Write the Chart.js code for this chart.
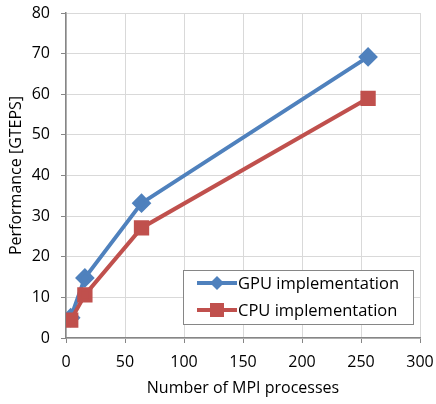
<!DOCTYPE html>
<html><head><meta charset="utf-8">
<script src="https://cdn.jsdelivr.net/npm/chart.js@4"></script>
<style>html,body{margin:0;padding:0;background:#fff}#w{width:436px;height:404px}</style>
</head><body><div id="w"><canvas id="c"></canvas></div>
<script>
const processes = [4, 16, 64, 256];
const gpuPerf = [5.0, 14.8, 33.2, 69.2];
const cpuPerf = [4.4, 10.6, 27.1, 59.0];
const seriesNames = ['GPU implementation', 'CPU implementation'];
const xTitle = 'Number of MPI processes';
const yTitle = 'Performance [GTEPS]';

const FONT = '"Open Sans", "Liberation Sans", sans-serif';
const legendPlugin = {
  id: 'boxLegend',
  afterDraw(chart) {
    const ctx = chart.ctx;
    const x0 = 183, y0 = 270, w = 230, h = 54;
    ctx.save();
    ctx.fillStyle = '#fff';
    ctx.fillRect(x0, y0, w, h);
    ctx.strokeStyle = '#868686';
    ctx.lineWidth = 1;
    ctx.strokeRect(x0 + 0.5, y0 + 0.5, w, h);
    chart.data.datasets.forEach((ds, i) => {
      const cy = y0 + 13 + i * 27;
      ctx.strokeStyle = ds.borderColor;
      ctx.lineWidth = 4;
      ctx.beginPath(); ctx.moveTo(x0 + 14, cy); ctx.lineTo(x0 + 54, cy); ctx.stroke();
      ctx.fillStyle = ds.backgroundColor;
      ctx.beginPath();
      if (ds.pointStyle === 'rectRot') {
        ctx.moveTo(x0 + 34, cy - 7); ctx.lineTo(x0 + 41, cy); ctx.lineTo(x0 + 34, cy + 7); ctx.lineTo(x0 + 27, cy);
        ctx.closePath(); ctx.fill();
      } else {
        ctx.fillRect(x0 + 27, cy - 7, 14, 14);
      }
      ctx.fillStyle = '#000';
      ctx.font = '16.5px ' + FONT;
      ctx.textBaseline = 'middle';
      ctx.fillText(ds.label, x0 + 55, cy + 1);
    });
    ctx.restore();
  }
};

new Chart(document.getElementById('c'), {
  type: 'scatter',
  data: {
    datasets: [
      { label: seriesNames[0], data: processes.map((x, i) => ({x, y: gpuPerf[i]})),
        showLine: true, borderColor: '#4F81BD', backgroundColor: '#4F81BD', borderWidth: 4,
        pointStyle: 'rectRot', pointRadius: 7, pointHoverRadius: 7, order: 2 },
      { label: seriesNames[1], data: processes.map((x, i) => ({x, y: cpuPerf[i]})),
        showLine: true, borderColor: '#C0504D', backgroundColor: '#C0504D', borderWidth: 4,
        pointStyle: 'rect', pointRadius: 8, pointHoverRadius: 8, order: 1 }
    ]
  },
  options: {
    responsive: true, maintainAspectRatio: false, animation: false,
    layout: { padding: { left: 7, right: 16, top: 13, bottom: 2 } },
    plugins: { legend: { display: false }, tooltip: { enabled: false } },
    scales: {
      x: {
        type: 'linear', min: 0, max: 300,
        ticks: { stepSize: 50, color: '#000', font: { family: FONT, size: 16 }, padding: 10 },
        grid: { color: '#D9D9D9', tickLength: 5, tickColor: '#868686' },
        border: { color: '#868686', width: 1.5 },
        title: { display: true, text: xTitle, color: '#000', font: { family: FONT, size: 16 }, padding: { top: 6, bottom: 4 } },
        afterFit(s) { s.height = 64; s.paddingLeft = 0; s.paddingRight = 0; }
      },
      y: {
        min: 0, max: 80,
        ticks: { stepSize: 10, color: '#000', font: { family: FONT, size: 16 }, padding: 11 },
        grid: { color: '#D9D9D9', tickLength: 5, tickColor: '#868686' },
        border: { color: '#868686', width: 1.5 },
        title: { display: true, text: yTitle, color: '#000', font: { family: FONT, size: 16 }, padding: { top: 0, bottom: 4 } },
        afterFit(s) { s.width = 59; s.paddingTop = 0; s.paddingBottom = 0; }
      }
    }
  },
  plugins: [legendPlugin]
});
</script></body></html>
